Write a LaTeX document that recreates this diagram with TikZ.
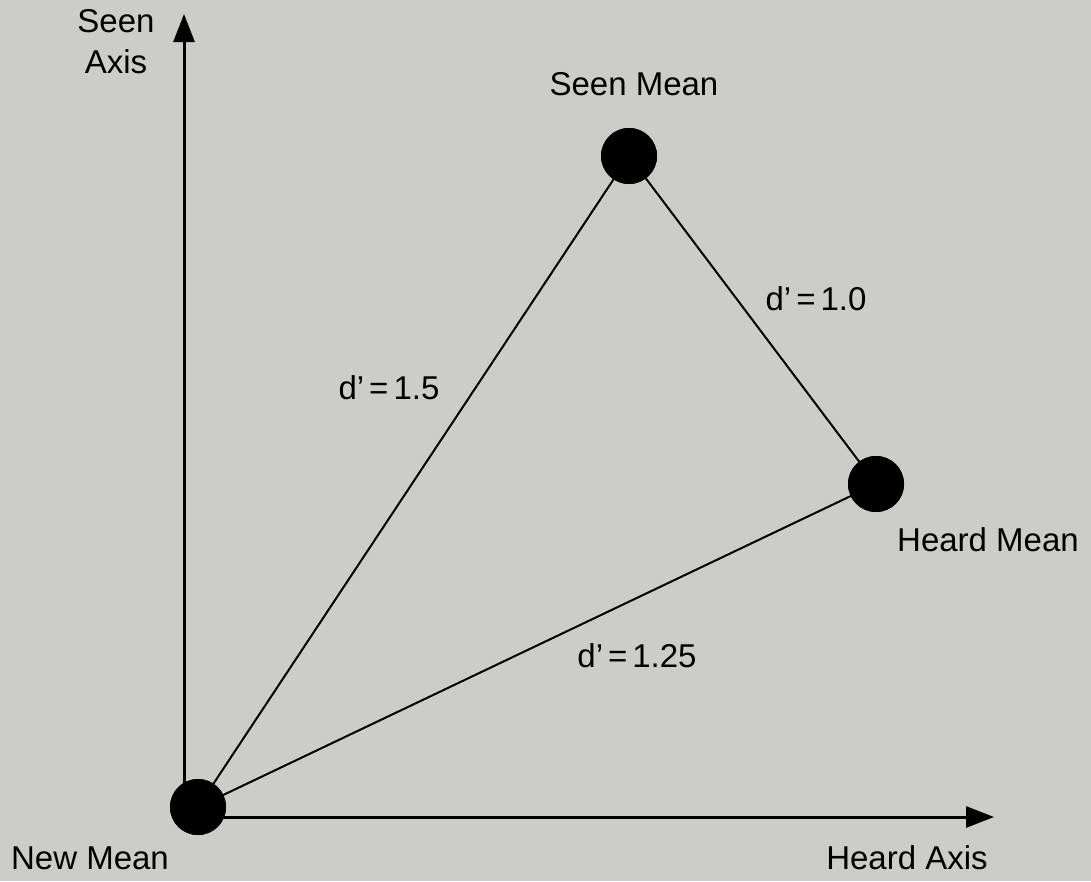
\documentclass[tikz,border=0pt]{standalone}
\usepackage{fontspec}
\setmainfont{Liberation Sans}
\usetikzlibrary{arrows.meta}
\definecolor{bg}{RGB}{205,205,199}
\newcommand{\dq}[1]{d’\hskip5pt=\hskip5pt#1}
\begin{document}
\begin{tikzpicture}[x=1pt,y=-1pt,
  mean/.style={circle,fill=black,inner sep=0pt,minimum size=56pt},
  lbl/.style={font=\fontsize{33}{41}\selectfont,inner sep=0pt,align=center},
  link/.style={line width=2pt,black},
  axis/.style={line width=3pt,black,-{Triangle[length=28pt,width=21pt]}}]
\fill[bg] (0,0) rectangle (1091,881);
\useasboundingbox (0,0) rectangle (1091,881);
\coordinate (ybot) at (184,795);
\coordinate (ytop) at (184,14);
\coordinate (xleft) at (222,817);
\coordinate (xright) at (994,817);
\draw[axis] (ybot) -- (ytop);
\draw[axis] (xleft) -- (xright);
\node[mean] (new) at (198,807) {};
\node[mean] (seen) at (629,156) {};
\node[mean] (heard) at (876,484) {};
\draw[link] (new.center) -- (seen.center);
\draw[link] (seen.center) -- (heard.center);
\draw[link] (new.center) -- (heard.center);
\node[mean] at (new) {};
\node[mean] at (seen) {};
\node[mean] at (heard) {};
\node[lbl] (seenaxis) at (116,42) {Seen\\Axis};
\node[lbl] (seenlbl) at (634,84) {Seen Mean};
\node[lbl] (d10) at (816,299) {\dq{1.0}};
\node[lbl] (d15) at (389,388) {\dq{1.5}};
\node[lbl] (heardlbl) at (988,540) {Heard Mean};
\node[lbl] (d125) at (637,656) {\dq{1.25}};
\node[lbl] (newlbl) at (90,858) {New Mean};
\node[lbl] (heardaxis) at (907,858) {Heard Axis};
\end{tikzpicture}
\end{document}
